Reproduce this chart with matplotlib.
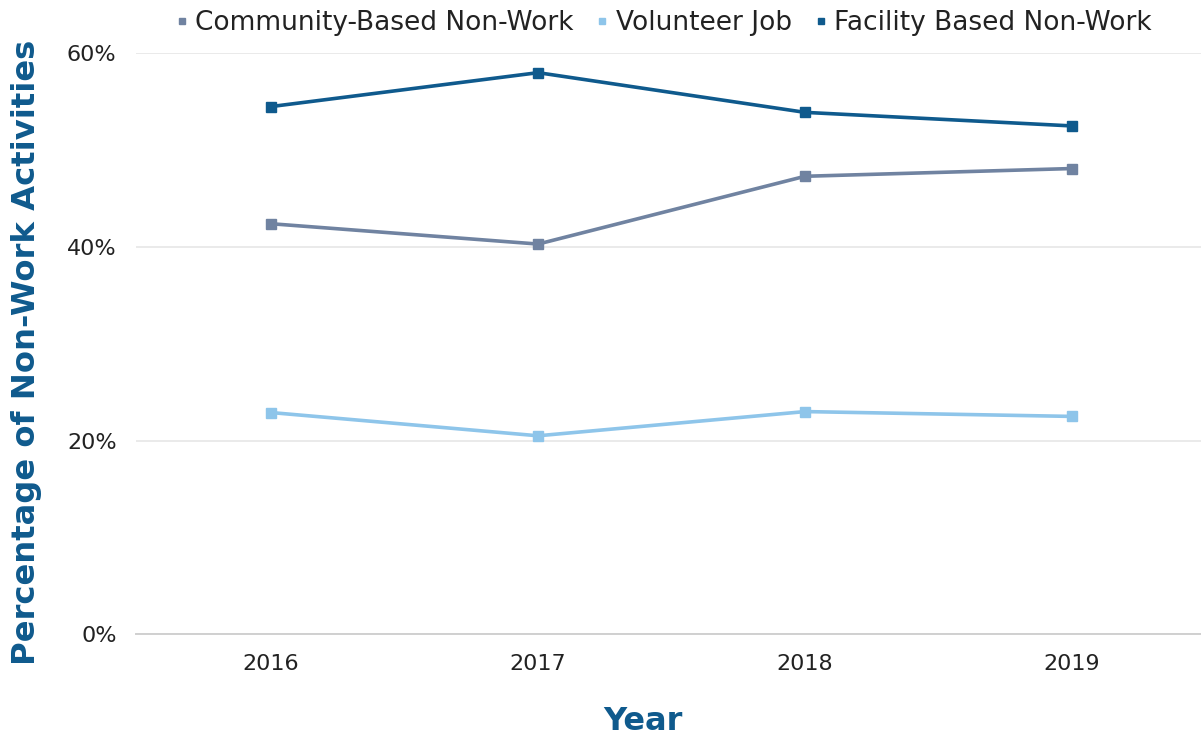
import matplotlib
matplotlib.use("Agg")
import matplotlib.pyplot as plt
from matplotlib.ticker import PercentFormatter

# Share of participants in non-work activities by year
years = ["2016", "2017", "2018", "2019"]
community_based = [42.4, 40.3, 47.3, 48.1]
volunteer_job = [22.9, 20.5, 23.0, 22.5]
facility_based = [54.5, 58.0, 53.9, 52.5]

series_names = ["Community-Based Non-Work", "Volunteer Job", "Facility Based Non-Work"]
series_values = [community_based, volunteer_job, facility_based]
series_colors = ["#7083a1", "#8ec5ea", "#0f5a8d"]

y_ticks = [0, 20, 40, 60]

W, H = 1201, 737
fig = plt.figure(figsize=(W / 100, H / 100), dpi=100)
left_px, right_px = 136, 1201
top_px, bottom_px = 53.3, 634.3
ax = fig.add_axes([left_px / W, 1 - bottom_px / H,
                   (right_px - left_px) / W, (bottom_px - top_px) / H])

x = list(range(len(years)))
handles = []
for name, vals, col in zip(series_names, series_values, series_colors):
    ax.plot(x, vals, color=col, lw=2.6, marker="s", ms=7.5,
            markerfacecolor=col, markeredgecolor=col, zorder=3)
    handles.append(plt.Line2D([], [], ls="none", marker="s", ms=5,
                              color=col, label=name))

ax.set_xlim(-0.506, 3.483)
ax.set_ylim(0, 60)
ax.set_xticks(x)
ax.set_xticklabels(years)
ax.set_yticks(y_ticks)
ax.yaxis.set_major_formatter(PercentFormatter(decimals=0))

for lab in ax.get_xticklabels() + ax.get_yticklabels():
    lab.set_fontfamily("DejaVu Sans")
    lab.set_fontsize(16)
    lab.set_color("#222222")
ax.tick_params(axis="both", length=0)
ax.tick_params(axis="x", pad=14)
ax.tick_params(axis="y", pad=14)

ax.grid(axis="y", color="#e6e6e6", lw=1.2, zorder=0)
ax.set_axisbelow(True)
for s in ["top", "right", "left"]:
    ax.spines[s].set_visible(False)
ax.spines["bottom"].set_color("#d0d0d0")
ax.spines["bottom"].set_linewidth(1.4)

fig.text(27 / W, 1 - 352 / H, "Percentage of Non-Work Activities",
         rotation=90, ha="center", va="center", family="DejaVu Sans",
         weight="bold", size=23.2, color="#0f5a8d")
fig.text(643 / W, 1 - 730 / H, "Year", ha="center", va="baseline",
         family="DejaVu Sans", weight="bold", size=23, color="#0f5a8d")

fig.legend(handles=handles, loc="center", bbox_to_anchor=(664 / W, 1 - 23 / H),
           ncol=3, frameon=False, prop=dict(family="DejaVu Sans", size=19),
           handlelength=0.4, handletextpad=0.3, columnspacing=0.9,
           labelcolor="#222222")

fig.savefig("out.png", dpi=100, facecolor="white")
